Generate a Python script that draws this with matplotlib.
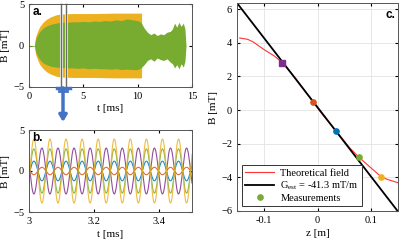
import numpy as np
import matplotlib
matplotlib.use('Agg')
import matplotlib.pyplot as plt
from matplotlib.lines import Line2D

plt.rcParams.update({
    'font.family': 'Liberation Serif',
    'mathtext.fontset': 'custom',
    'mathtext.rm': 'Liberation Serif',
    'font.size': 7.5,
    'xtick.labelsize': 7.5,
    'ytick.labelsize': 7.5,
    'axes.labelsize': 8,
    'xtick.direction': 'in',
    'ytick.direction': 'in',
    'xtick.top': True,
    'ytick.right': True,
    'xtick.major.size': 2,
    'ytick.major.size': 2,
    'axes.edgecolor': '#555555',
    'axes.linewidth': 0.7,
})

# colori MATLAB
c_blue = '#0072BD'
c_orange = '#D95319'
c_yellow = '#EDB120'
c_purple = '#7E2F8E'
c_green = '#77AC30'
c_arrow = '#4472C4'

# --- pannello a: inviluppi ---
t_orange = [0.5, 0.6, 0.8, 1.0, 1.3, 1.6, 2.0, 2.5, 3.0, 4.0, 6.0, 8.0, 10.0, 10.35, 10.4]
amp_orange = [0, 1.0, 1.75, 2.3, 2.8, 3.15, 3.45, 3.7, 3.8, 3.85, 3.85, 3.9, 3.9, 3.9, 0]

t_green = [0, 0.5, 0.6, 0.8, 1.0, 1.3, 1.6, 2.0, 2.5, 3.0, 3.5, 4.0, 4.5, 5.0, 5.5,
           6.0, 6.5, 7.0, 7.5, 8.0, 8.5, 9.0, 9.5, 10.0, 10.3, 10.6, 10.9, 11.2, 11.5,
           11.8, 12.1, 12.4, 12.7, 13.0, 13.2, 13.4, 13.6, 13.8, 14.0, 14.2, 14.35, 14.45]
green_top = [0, 0, 0.7, 1.3, 1.7, 2.1, 2.35, 2.55, 2.7, 2.8, 2.8, 2.85, 2.85, 2.9, 2.85,
             2.95, 2.9, 3.0, 2.95, 3.1, 3.0, 3.2, 3.1, 3.0, 2.8, 2.1, 1.6, 1.3, 1.5,
             1.2, 1.4, 1.3, 1.6, 1.7, 2.0, 2.7, 2.2, 2.8, 2.3, 2.7, 2.0, 0]
green_bot = [0, 0, -0.7, -1.3, -1.7, -2.1, -2.3, -2.5, -2.6, -2.65, -2.7, -2.7, -2.75, -2.7, -2.8,
             -2.75, -2.8, -2.8, -2.85, -2.8, -2.9, -2.85, -2.9, -2.9, -2.7, -2.3, -1.8, -1.6, -1.9,
             -1.5, -1.7, -1.8, -1.6, -2.0, -2.2, -2.7, -2.3, -2.8, -2.2, -2.6, -1.9, 0]
zoom_window = [2.95, 3.45]

# --- pannello b: sinusoidi (ampiezza, segno) ---
sig_names = ['purple', 'orange', 'blue', 'green', 'yellow']
sig_colors = [c_purple, c_orange, c_blue, c_green, c_yellow]
sig_amp = [2.8, 0.45, 1.2, 2.7, 3.9]
sig_sign = [-1, -1, 1, 1, 1]
period_ms = 0.0493
t_first_peak = 3.015

# --- pannello c ---
z_theory = [-0.145, -0.13, -0.12, -0.10, -0.08, -0.065, -0.04, -0.01, 0.01, 0.035,
            0.06, 0.077, 0.10, 0.118, 0.13, 0.15]
B_theory = [4.28, 4.2, 4.05, 3.6, 3.2, 2.8, 1.85, 0.55, -0.3, -1.25,
            -2.25, -2.8, -3.45, -3.95, -4.12, -4.32]
z_fit = [-0.15, 0.15]
B_fit = [6.36, -6.03]
z_meas = [-0.067, -0.008, 0.035, 0.077, 0.118]
B_meas = [2.79, 0.47, -1.25, -2.8, -3.98]
meas_colors = [c_purple, c_orange, c_blue, c_green, c_yellow]
meas_markers = ['s', 'o', 'o', 'o', 'o']

fig = plt.figure(figsize=(4.0, 2.44), dpi=100)
W, H = 400, 244


def box(l, r, t, b):
    return [l / W, 1 - b / H, (r - l) / W, (b - t) / H]


# ================= a =================
ax_a = fig.add_axes(box(29, 192, 4, 87))
ax_a.fill_between(t_orange, amp_orange, -np.array(amp_orange), color=c_yellow, lw=0)
ax_a.fill_between(t_green, green_top, green_bot, color=c_green, lw=0)
ax_a.plot(t_green[:2], green_top[:2], color=c_green, lw=0.6)
for tw in zoom_window:
    ax_a.axvline(tw, color='#dddddd', lw=2.0, ymin=-0.03, clip_on=False)
    ax_a.axvline(tw, color='#555555', lw=0.6, ymin=-0.03, clip_on=False)
ax_a.set_xlim(0, 15)
ax_a.set_ylim(-5, 5)
ax_a.set_xticks([0, 5, 10, 15])
ax_a.set_yticks([-5, 0, 5])
ax_a.set_xlabel('t [ms]', labelpad=2)
ax_a.set_ylabel('B [mT]', labelpad=2)
ax_a.text(0.02, 0.97, 'a.', transform=ax_a.transAxes, ha='left', va='top',
          fontfamily='Liberation Sans', fontweight='bold', fontsize=8.5)

# freccia blu tra a e b
fx = 63 / W
fig.add_artist(Line2D([57 / W, 70 / W], [1 - 88 / H, 1 - 88 / H], color=c_arrow, lw=2.5))
fig.add_artist(Line2D([59 / W, 67 / W], [1 - 90.5 / H, 1 - 90.5 / H], color=c_arrow, lw=2.0))
ax_a.annotate('', xy=(fx, 1 - 122 / H), xytext=(fx, 1 - 88 / H),
              xycoords='figure fraction', textcoords='figure fraction',
              arrowprops=dict(arrowstyle='-|>,head_length=0.5,head_width=0.3',
                              color=c_arrow, lw=2.5, shrinkA=0, shrinkB=0))

# ================= b =================
ax_b = fig.add_axes(box(29, 192, 130, 212))
tb = np.linspace(3, 3.5, 2000)
for name, col, A, s in zip(sig_names, sig_colors, sig_amp, sig_sign):
    ax_b.plot(tb, s * A * np.cos(2 * np.pi * (tb - t_first_peak) / period_ms),
              color=col, lw=0.8, alpha=0.85)
ax_b.set_xlim(3, 3.5)
ax_b.set_ylim(-5, 5)
ax_b.set_xticks([3, 3.2, 3.4])
ax_b.set_xticklabels(['3', '3.2', '3.4'])
ax_b.set_yticks([-5, 0, 5])
ax_b.set_xlabel('t [ms]', labelpad=3)
ax_b.set_ylabel('B [mT]', labelpad=2)
ax_b.text(0.02, 0.97, 'b.', transform=ax_b.transAxes, ha='left', va='top',
          fontfamily='Liberation Sans', fontweight='bold', fontsize=8.5)

# ================= c =================
ax_c = fig.add_axes(box(237, 398, 3, 211))
ax_c.grid(True, color='#e3e3e3', lw=0.6)
ax_c.set_axisbelow(True)
ax_c.plot(z_theory, B_theory, color='#ff3333', lw=0.8, label='Theoretical field')
ax_c.plot(z_fit, B_fit, color='black', lw=1.3, label='G$_{\\mathrm{est}}$ = -41.3 mT/m')
for z, b, col, m in zip(z_meas, B_meas, meas_colors, meas_markers):
    ax_c.plot(z, b, marker=m, color=col, ms=3.8, ls='none')
ax_c.plot([], [], marker='o', color=c_green, ms=3.8, ls='none', label='Measurements')
ax_c.set_xlim(-0.15, 0.15)
ax_c.set_ylim(-6, 6.36)
ax_c.set_xticks([-0.1, 0, 0.1])
ax_c.set_xticklabels(['-0.1', '0', '0.1'])
ax_c.set_yticks([-6, -4, -2, 0, 2, 4, 6])
ax_c.set_xlabel('z [m]', labelpad=3)
ax_c.set_ylabel('B [mT]', labelpad=2)
ax_c.text(0.985, 0.97, 'c.', transform=ax_c.transAxes, ha='right', va='top',
          fontfamily='Liberation Sans', fontweight='bold', fontsize=8.5)
leg = ax_c.legend(loc='lower left', bbox_to_anchor=(0.03, 0.024), borderaxespad=0,
                  fancybox=False, edgecolor='#333333', framealpha=1, fontsize=7.5,
                  handlelength=2.8, labelspacing=0.15, borderpad=0.3, handletextpad=0.6)
leg.get_frame().set_linewidth(0.7)

fig.savefig('out.png', dpi=100)
